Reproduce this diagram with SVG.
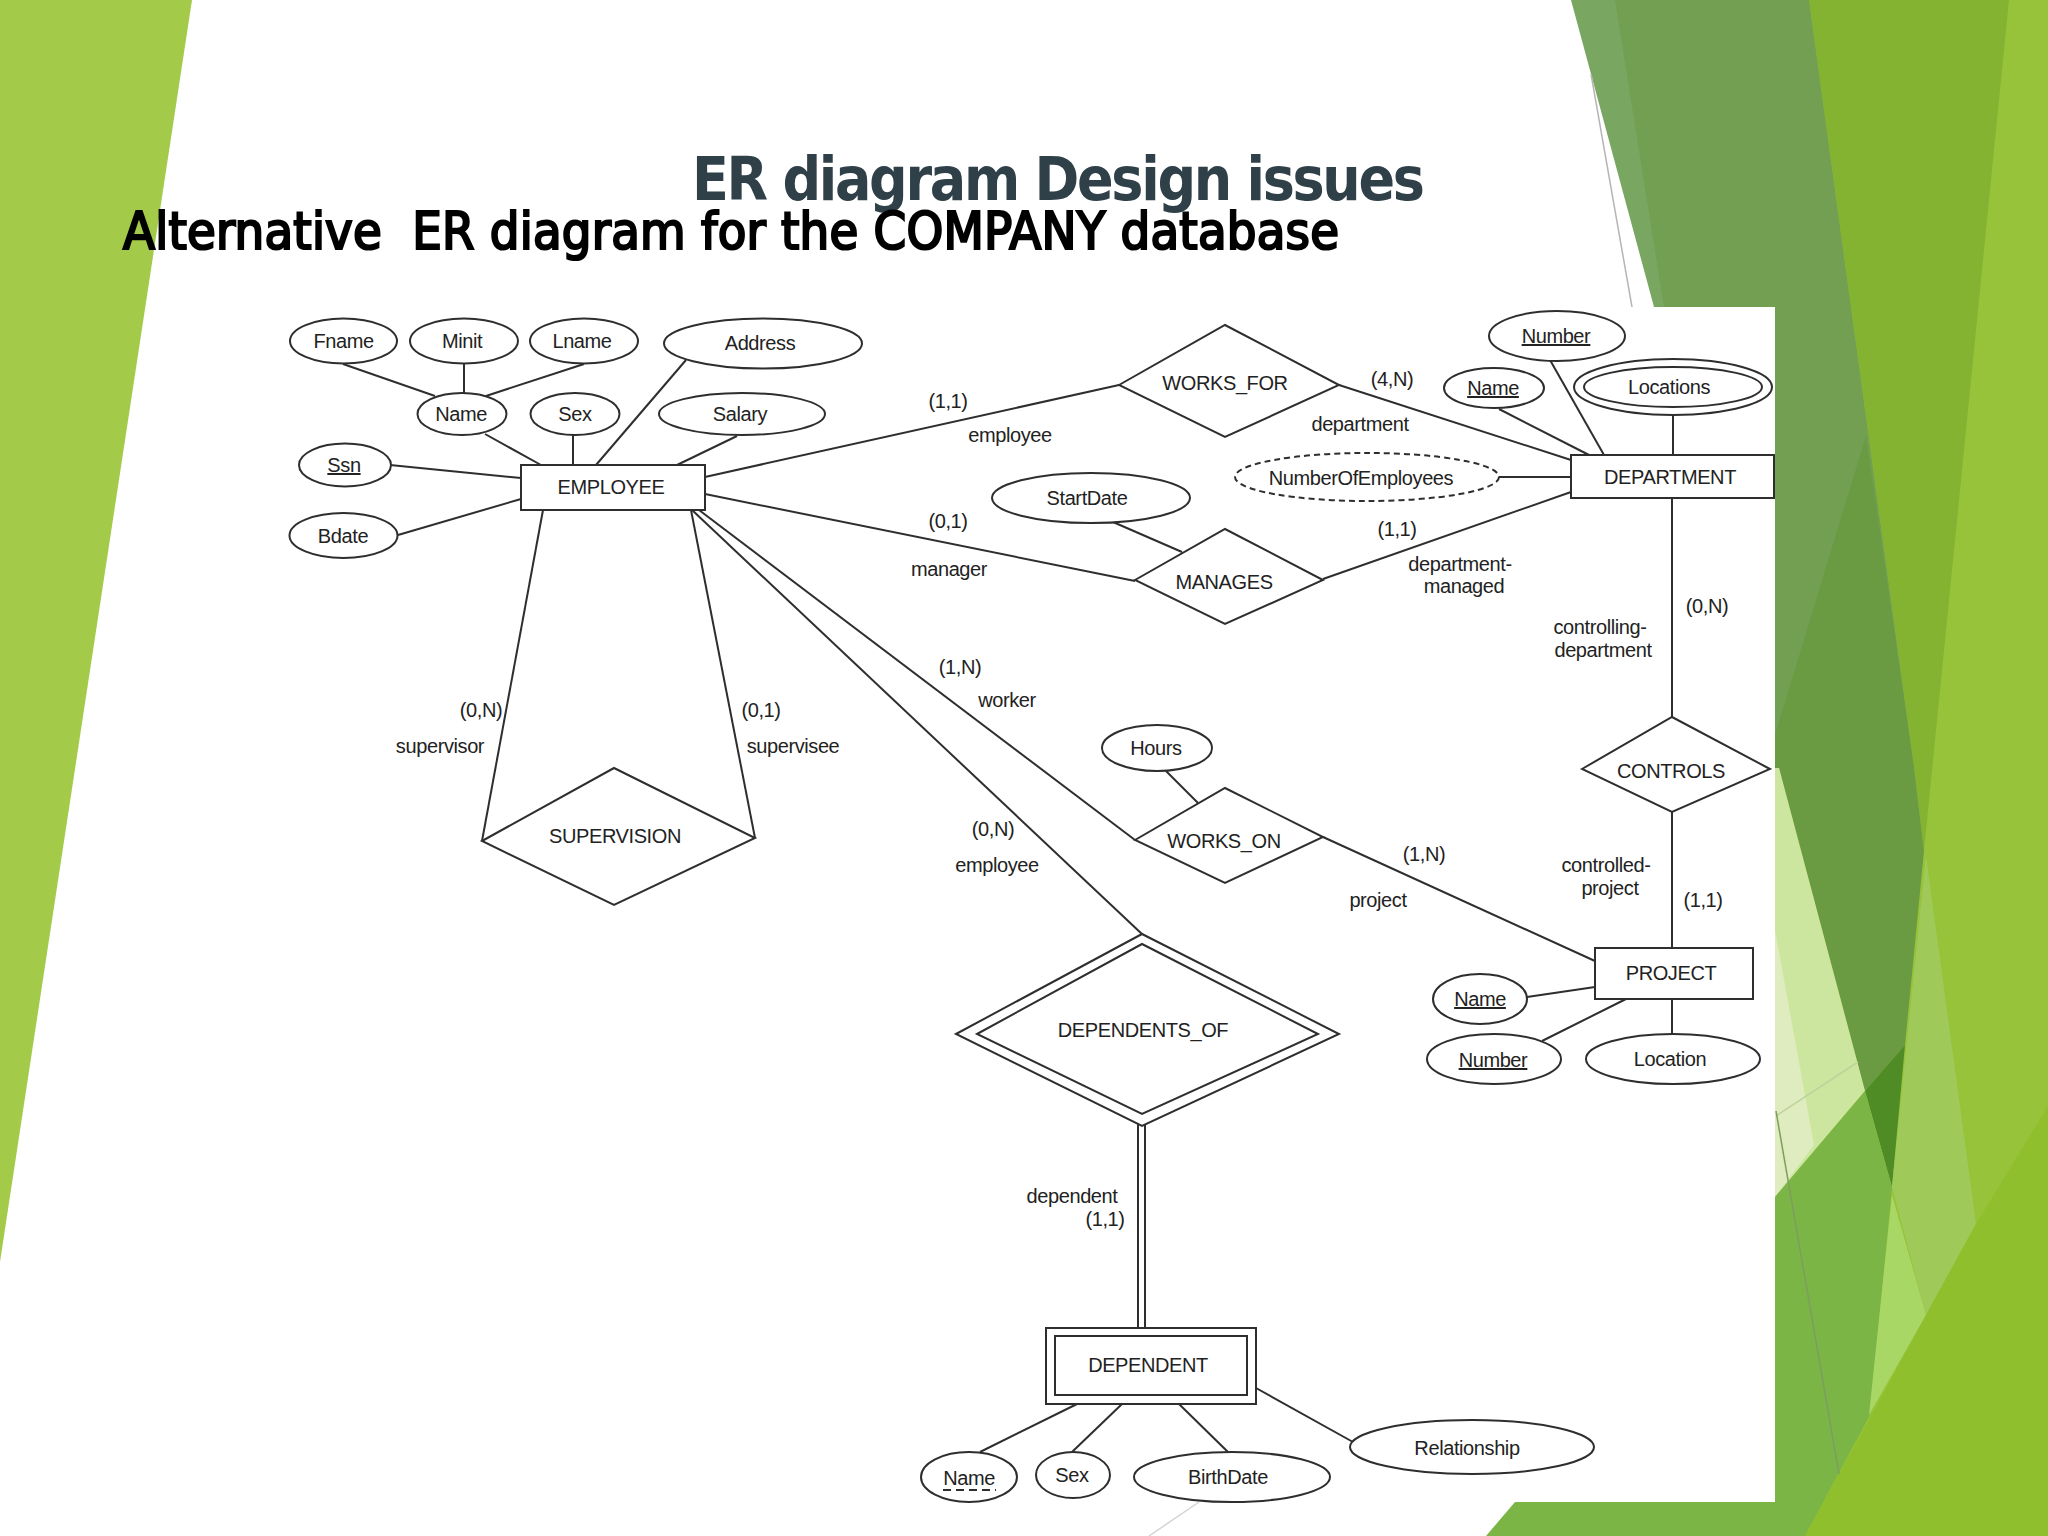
<svg xmlns="http://www.w3.org/2000/svg" width="2048" height="1536" viewBox="0 0 2048 1536">
<style>
.s{fill:#fff;stroke:#2e2e2e;stroke-width:2}
.n{fill:none;stroke:#2e2e2e;stroke-width:2}
.d{stroke-dasharray:6 4}
.c line{stroke:#2e2e2e;stroke-width:2}
text{font-family:"Liberation Sans",Arial,sans-serif;font-size:20px;fill:#222;text-anchor:middle;letter-spacing:-.4px}
.u{text-decoration:underline}
.t{font-family:"DejaVu Sans Condensed","DejaVu Sans",sans-serif;font-weight:700;text-anchor:start;letter-spacing:0;white-space:pre}
.g{stroke:#b5b5b5;stroke-width:1.5;fill:none}
</style>
<g id="background">
<rect width="2048" height="1536" fill="#fff"/>
<polygon points="0,0 192,0 0,1262" fill="#a3cb49"/>
<polygon points="1809,0 2048,0 2048,1536 1775,1536 1775,768" fill="#96c33a"/>
<polygon points="1571,0 1809,0 1914,768 1775,768 1775,307 1654,307" fill="#79a660"/>
<polygon points="1615,0 1809,0 1914,768 1775,768 1775,307 1664,307" fill="#729f52"/>
<polygon points="1809,0 2009,0 1924,851 1914,768" fill="#84b332"/>
<polygon points="1775,735 1866,436 1914,768 1924,851 1905,1045 1865,1091 1779,768 1775,768" fill="#6a9a42"/>
<polygon points="1775,768 1779,768 1865,1091 1775,1197" fill="#cde69f"/>
<polygon points="1775,930 1814,1145 1775,1197" fill="#deecc0"/>
<polygon points="1865,1091 1905,1045 1892,1187" fill="#4f8c25"/>
<polygon points="1486,1536 1515,1502 1775,1502 1775,1197 1865,1091 1892,1187 1870,1415 1805,1536" fill="#7ab545"/>
<polygon points="1926,856 1976,1224 1926,1315 1892,1187" fill="#9fca5a"/>
<polygon points="1892,1195 1926,1315 1869,1415" fill="#a9d766"/>
<polygon points="1805,1536 1869,1420 1926,1315 1976,1224 2048,1106 2048,1536" fill="#8fbf2c"/>
<line class="g" x1="1591" y1="74" x2="1632" y2="307"/>
<line class="g" x1="1776" y1="1116" x2="1858" y2="1062" style="stroke:#bcd39a"/>
<line class="g" x1="1776" y1="1111" x2="1839" y2="1474" style="stroke:#7e9e5e"/>
<rect x="270" y="307" width="1505" height="1195" fill="#fff"/>
<line class="g" x1="1149" y1="1536" x2="1199" y2="1502" style="stroke:#d4d4d4"/>
</g>
<text class="t" x="692" y="200" textLength="733" style="font-size:60px;fill:#2f4049">ER diagram Design issues</text>
<text class="t" x="123" y="249" textLength="1216" xml:space="preserve" style="font-size:52px;font-weight:400;fill:#000;stroke:#000;stroke-width:2.2px">Alternative  ER diagram for the COMPANY database</text>
<g id="connectors" class="c">
<line x1="343" y1="364" x2="435" y2="396"/>
<line x1="464" y1="364" x2="464" y2="393"/>
<line x1="584" y1="364" x2="486" y2="396"/>
<line x1="485" y1="434" x2="541" y2="465"/>
<line x1="573" y1="435" x2="573" y2="465"/>
<line x1="686" y1="360" x2="596" y2="465"/>
<line x1="737" y1="436" x2="677" y2="465"/>
<line x1="390" y1="465" x2="521" y2="478"/>
<line x1="398" y1="535" x2="521" y2="499"/>
<line x1="705" y1="477" x2="1119" y2="385"/>
<line x1="1339" y1="385" x2="1571" y2="460"/>
<line x1="1550" y1="360" x2="1604" y2="455"/>
<line x1="1499" y1="409" x2="1589" y2="455"/>
<line x1="1673" y1="415" x2="1673" y2="455"/>
<line x1="1499" y1="477" x2="1571" y2="477"/>
<line x1="705" y1="494" x2="1135" y2="581"/>
<line x1="1323" y1="579" x2="1571" y2="492"/>
<line x1="1113" y1="522" x2="1182" y2="552"/>
<line x1="1672" y1="498" x2="1672" y2="717"/>
<line x1="1672" y1="812" x2="1672" y2="948"/>
<line x1="1527" y1="997" x2="1595" y2="987"/>
<line x1="1542" y1="1041" x2="1626" y2="999"/>
<line x1="1672" y1="999" x2="1672" y2="1035"/>
<line x1="1166" y1="771" x2="1198" y2="803"/>
<line x1="1323" y1="837" x2="1595" y2="961"/>
<line x1="699" y1="510" x2="1135" y2="840"/>
<line x1="692" y1="510" x2="1143" y2="935"/>
<line x1="1138" y1="1124" x2="1138" y2="1328"/>
<line x1="1145" y1="1124" x2="1145" y2="1328"/>
<line x1="1077" y1="1404" x2="980" y2="1452"/>
<line x1="1122" y1="1404" x2="1072" y2="1452"/>
<line x1="1179" y1="1404" x2="1228" y2="1452"/>
<line x1="1256" y1="1388" x2="1353" y2="1442"/>
<line x1="543" y1="510" x2="482" y2="841"/>
<line x1="691" y1="510" x2="755" y2="838"/>
</g>
<g id="labels">
<text x="948" y="408">(1,1)</text><text x="1010" y="442">employee</text>
<text x="1392" y="386">(4,N)</text><text x="1360" y="431">department</text>
<text x="948" y="528">(0,1)</text><text x="949" y="576">manager</text>
<text x="1397" y="536">(1,1)</text><text x="1460" y="571">department-</text><text x="1464" y="593">managed</text>
<text x="1600" y="634">controlling-</text><text x="1603" y="657">department</text><text x="1707" y="613">(0,N)</text>
<text x="960" y="674">(1,N)</text><text x="1007" y="707">worker</text>
<text x="481" y="717">(0,N)</text><text x="440" y="753">supervisor</text>
<text x="761" y="717">(0,1)</text><text x="793" y="753">supervisee</text>
<text x="993" y="836">(0,N)</text><text x="997" y="872">employee</text>
<text x="1424" y="861">(1,N)</text><text x="1378" y="907">project</text>
<text x="1606" y="872">controlled-</text><text x="1610" y="895">project</text><text x="1703" y="907">(1,1)</text>
<text x="1072" y="1203">dependent</text><text x="1105" y="1226">(1,1)</text>
</g>
<g id="fname"><ellipse class="s" cx="343.5" cy="341" rx="53.5" ry="22.5"/><text x="343.5" y="348">Fname</text></g>
<g id="minit"><ellipse class="s" cx="464" cy="341" rx="54" ry="22.5"/><text x="462" y="348">Minit</text></g>
<g id="lname"><ellipse class="s" cx="584" cy="341" rx="54" ry="22.5"/><text x="582" y="348">Lname</text></g>
<g id="address"><ellipse class="s" cx="763" cy="343.5" rx="99" ry="25"/><text x="760" y="350">Address</text></g>
<g id="name"><ellipse class="s" cx="462" cy="414" rx="44.5" ry="21"/><text x="461" y="421">Name</text></g>
<g id="sex"><ellipse class="s" cx="575" cy="414" rx="44.5" ry="21"/><text x="575" y="421">Sex</text></g>
<g id="salary"><ellipse class="s" cx="742" cy="414" rx="83" ry="21"/><text x="740" y="421">Salary</text></g>
<g id="ssn"><ellipse class="s" cx="345" cy="465" rx="46" ry="21.5"/><text class="u" x="344" y="472">Ssn</text></g>
<g id="bdate"><ellipse class="s" cx="343.5" cy="535.5" rx="54" ry="22.5"/><text x="343" y="543">Bdate</text></g>
<g id="employee"><rect class="s" x="521" y="465" width="184" height="45"/><text x="611" y="494">EMPLOYEE</text></g>
<g id="works_for"><polygon class="s" points="1119,385 1225,325 1339,385 1225,437"/><text x="1225" y="390">WORKS_FOR</text></g>
<g id="dept_number"><ellipse class="s" cx="1557" cy="336" rx="68" ry="25"/><text class="u" x="1556" y="343">Number</text></g>
<g id="dept_name"><ellipse class="s" cx="1494" cy="388" rx="50" ry="20"/><text class="u" x="1493" y="395">Name</text></g>
<g id="locations"><ellipse class="s" cx="1673" cy="387" rx="99" ry="28"/><ellipse class="s" cx="1673" cy="387" rx="89" ry="20"/><text x="1669" y="394">Locations</text></g>
<g id="department"><rect class="s" x="1571" y="455" width="203" height="43"/><text x="1670" y="484">DEPARTMENT</text></g>
<g id="numberofemployees"><ellipse class="s d" cx="1367" cy="477" rx="132" ry="24"/><text x="1361" y="485">NumberOfEmployees</text></g>
<g id="startdate"><ellipse class="s" cx="1091" cy="498" rx="99" ry="25"/><text x="1087" y="505">StartDate</text></g>
<g id="manages"><polygon class="s" points="1135,580 1225,529 1323,580 1225,624"/><text x="1224" y="589">MANAGES</text></g>
<g id="controls"><polygon class="s" points="1582,769 1672,717 1770,769 1672,812"/><text x="1671" y="778">CONTROLS</text></g>
<g id="works_on"><polygon class="s" points="1135,840 1225,788 1323,837 1225,883"/><text x="1224" y="848">WORKS_ON</text></g>
<g id="hours"><ellipse class="s" cx="1157" cy="748" rx="55" ry="23"/><text x="1156" y="755">Hours</text></g>
<g id="project"><rect class="s" x="1595" y="948" width="158" height="51"/><text x="1671" y="980">PROJECT</text></g>
<g id="proj_name"><ellipse class="s" cx="1480" cy="999" rx="47" ry="25"/><text class="u" x="1480" y="1006">Name</text></g>
<g id="proj_number"><ellipse class="s" cx="1494" cy="1059" rx="67" ry="25"/><text class="u" x="1493" y="1067">Number</text></g>
<g id="location"><ellipse class="s" cx="1673" cy="1059" rx="87" ry="25"/><text x="1670" y="1066">Location</text></g>
<g id="supervision"><polygon class="s" points="482,841 614,768 755,838 614,905"/><text x="615" y="843">SUPERVISION</text></g>
<g id="dependents_of"><polygon class="s" points="956,1034 1142,934 1339,1034 1142,1126"/><polygon class="s" points="977,1034 1142,944 1318,1034 1142,1114"/><text x="1143" y="1037">DEPENDENTS_OF</text></g>
<g id="dependent"><rect class="s" x="1046" y="1328" width="210" height="76"/><rect class="s" x="1055" y="1336" width="192" height="59"/><text x="1148" y="1372">DEPENDENT</text></g>
<g id="dep_name"><ellipse class="s" cx="969" cy="1477" rx="48" ry="25"/><text x="969" y="1485">Name</text><line class="n" x1="943" y1="1490" x2="996" y2="1490" style="stroke-dasharray:8 5"/></g>
<g id="dep_sex"><ellipse class="s" cx="1073" cy="1475" rx="37" ry="23"/><text x="1072" y="1482">Sex</text></g>
<g id="birthdate"><ellipse class="s" cx="1232" cy="1477" rx="98" ry="25"/><text x="1228" y="1484">BirthDate</text></g>
<g id="relationship"><ellipse class="s" cx="1472" cy="1447" rx="122" ry="27"/><text x="1467" y="1455">Relationship</text></g>
</svg>
